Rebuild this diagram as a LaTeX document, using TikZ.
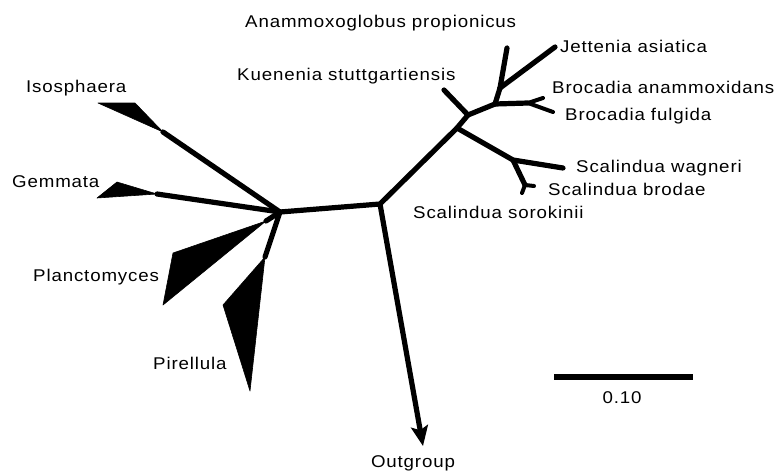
\documentclass[tikz,border=0pt]{standalone}
\usepackage{fontspec}
\setmainfont{Liberation Sans}
\newfontfamily\taxfont{Liberation Sans}[FakeStretch=1.1,LetterSpace=5]
\usetikzlibrary{arrows.meta,positioning}

\begin{document}
\begin{tikzpicture}[x=1pt,y=-1pt,
  branch/.style={line width=5.2pt,line cap=round,line join=round},
  twig/.style={line width=4pt,line cap=round,line join=round},
  wedge/.style={fill=black,draw=black,line width=0.6pt,line join=round},
  taxon/.style={font=\taxfont\fontsize{17}{20}\selectfont,inner sep=0pt,anchor=west}]
  \useasboundingbox (0,0) rectangle (776,474);

  % Branch points
  \coordinate (hubL) at (280,212);
  \coordinate (hubC) at (380,204);
  \coordinate (scaB) at (457,128);
  \coordinate (anaB) at (468,115);
  \coordinate (broB) at (495,104);
  \coordinate (jetB) at (500,88);
  \coordinate (broF) at (528,103);
  \coordinate (scaW) at (513,160);
  \coordinate (scaF) at (525,185);
  \coordinate (outT) at (423,446);

  % Tips
  \coordinate (tKue) at (444,90);
  \coordinate (tAna) at (507,48);
  \coordinate (tJet) at (555,47);
  \coordinate (tBan) at (543,98);
  \coordinate (tBfu) at (553,112);
  \coordinate (tSwa) at (563,168);
  \coordinate (tSbr) at (534,186);
  \coordinate (tSso) at (522,193);
  \coordinate (tIso) at (163,132);
  \coordinate (tGem) at (157,194);
  \coordinate (tPla) at (266,221);
  \coordinate (tPir) at (265,257);

  % Backbone
  \draw[branch] (hubL) -- (hubC) -- (scaB) -- (anaB) -- (broB) -- (jetB);
  \draw[branch,line cap=butt,-{Stealth[length=20pt,width=17pt,inset=4pt]}] (hubC) -- (outT);

  % Anammox clade
  \draw[branch] (anaB) -- (tKue);
  \draw[branch] (jetB) -- (tAna);
  \draw[branch] (jetB) -- (tJet);
  \draw[branch] (broB) -- (broF);
  \draw[twig] (broF) -- (tBan);
  \draw[twig] (broF) -- (tBfu);
  \draw[branch] (scaB) -- (scaW) -- (tSwa);
  \draw[branch] (scaW) -- (scaF);
  \draw[twig] (scaF) -- (tSbr);
  \draw[twig] (scaF) -- (tSso);

  % Planctomycetes wedges
  \foreach \t in {tIso,tGem,tPla,tPir}
    \draw[branch] (hubL) -- (\t);
  \fill[wedge] (98,103) -- (135,103) -- (tIso) -- cycle;
  \fill[wedge] (117,182) -- (97,198) -- (tGem) -- cycle;
  \fill[wedge] (tPla) -- (173,253) -- (163,305) -- cycle;
  \fill[wedge] (tPir) -- (223,305) -- (250,391) -- cycle;

  % Labels
  \node[taxon] (lAna) at (245,23) {Anammoxoglobus propionicus};
  \node[taxon] (lKue) at (237,76) {Kuenenia stuttgartiensis};
  \node[taxon] (lJet) at (560,46) {Jettenia asiatica};
  \node[taxon] (lBan) at (552,87) {Brocadia anammoxidans};
  \node[taxon] (lBfu) at (565,116) {Brocadia fulgida};
  \node[taxon] (lSwa) at (576,168) {Scalindua wagneri};
  \node[taxon] (lSbr) at (548,189) {Scalindua brodae};
  \node[taxon] (lSso) at (413,212) {Scalindua sorokinii};
  \node[taxon] (lIso) at (26,88) {Isosphaera};
  \node[taxon] (lGem) at (12,182) {Gemmata};
  \node[taxon] (lPla) at (33,277) {Planctomyces};
  \node[taxon] (lPir) at (153,363) {Pirellula};
  \node[taxon,anchor=center] (lOut) at (413,463) {Outgroup};

  % Scale bar
  \coordinate (barL) at (554,377);
  \coordinate (barR) at (693,377);
  \draw[line width=6.5pt] (barL) -- (barR);
  \node[taxon,anchor=center] (lBar) at (622,398) {0.10};
\end{tikzpicture}
\end{document}
